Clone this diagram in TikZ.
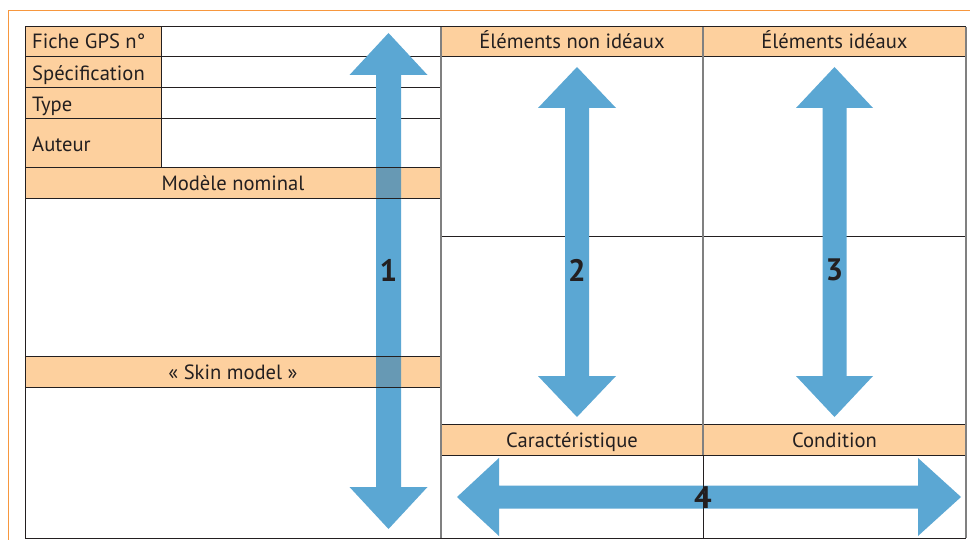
\documentclass[tikz,border=0pt]{standalone}
\usepackage{fontspec}
\setmainfont{PT Sans}
\definecolor{orfill}{RGB}{253,208,158}
\definecolor{orline}{RGB}{247,151,62}
\definecolor{arblue}{RGB}{91,167,211}
\definecolor{overlapc}{RGB}{103,153,180}
\definecolor{ink}{RGB}{35,31,32}
\definecolor{gridc}{RGB}{128,128,128}
\newcommand\myvarrow[7]{% cx, shaft half, head half, top tip, top base, bottom base, bottom tip
  \fill[arblue] ({#1},{#4}) -- ({#1+#3},{#5}) -- ({#1+#2},{#5}) -- ({#1+#2},{#6}) -- ({#1+#3},{#6})
    -- ({#1},{#7}) -- ({#1-#3},{#6}) -- ({#1-#2},{#6}) -- ({#1-#2},{#5}) -- ({#1-#3},{#5}) -- cycle;}
\begin{document}
\begin{tikzpicture}[x=1pt,y=-1pt,
  lbl/.style={font=\fontsize{20.6}{24}\selectfont, text=ink, inner sep=0pt, anchor=base west},
  hdr/.style={font=\fontsize{20.6}{24}\selectfont, text=ink, inner sep=0pt, anchor=base},
  num/.style={font=\bfseries\fontsize{31}{34}\selectfont, text=ink, inner sep=0pt},
  hl/.style={draw=ink, line width=1pt},
  vl/.style={draw=gridc, line width=1.2pt}]
\useasboundingbox (0,0) rectangle (970,540);
\fill[white] (0,0) rectangle (970,540);
% orange frame
\draw[orline, line width=1.2pt] (8.5,540) -- (8.5,10.5) -- (970,10.5);
% fills
\fill[orfill] (25,27) rectangle (161,168);
\fill[orfill] (25,168) rectangle (441,199);
\fill[orfill] (25,356) rectangle (441,387);
\fill[orfill] (441,27) rectangle (966,57);
\fill[orfill] (441,424) rectangle (966,455);
% horizontal lines
\foreach \yy in {27,57,88,119,168,199,356,387} \draw[hl] (25,\yy) -- (441,\yy);
\foreach \yy in {27,57,237,424,455} \draw[hl] (441,\yy) -- (966,\yy);
\draw[hl] (25,538) -- (966,538);
% vertical lines
\draw[hl] (25,27) -- (25,538);
\draw[hl] (161,27) -- (161,168);
\draw[vl] (441,27) -- (441,538);
\draw[vl] (703,27) -- (703,455);
\draw[vl] (966,27) -- (966,538);
% labels
\node[lbl] (fiche) at (32,49) {Fiche GPS n°};
\node[lbl] (spec) at (32,81) {Spécification};
\node[lbl] (type) at (32,112) {Type};
\node[lbl] (auteur) at (32,152) {Auteur};
\node[hdr] (nominal) at (233,191) {Modèle nominal};
\node[hdr] (skin) at (233,379) {« Skin model »};
\node[hdr] (nonideal) at (572,49) {Éléments non idéaux};
\node[hdr] (ideal) at (834.5,49) {Éléments idéaux};
\node[hdr] (carac) at (572,447) {Caractéristique};
\node[hdr] (cond) at (834.5,447) {Condition};
% arrows
\myvarrow{388.5}{12.5}{39}{33}{75}{487}{529}
\myvarrow{577}{12}{39}{67}{108}{376}{417}
\myvarrow{834.5}{12}{38.5}{67}{108}{376}{417}
\fill[arblue] (457,497) -- (499,458) -- (499,485.5) -- (918,485.5) -- (918,458) -- (961,497)
  -- (918,536) -- (918,508.5) -- (499,508.5) -- (499,536) -- cycle;
% overlap of arrow 1 with orange rows
\fill[overlapc] (376,168) rectangle (401,199);
\fill[overlapc] (376,356) rectangle (401,387);
\foreach \yy in {168,199,356,387} \draw[hl] (376,\yy) -- (401,\yy);
\draw[hl] (703,455) -- (703,538);
% numbers
\node[num] (n1) at (388.5,270) {1};
\node[num] (n2) at (577,270) {2};
\node[num] (n3) at (834.5,270) {3};
\node[num] (n4) at (703,498) {4};
\end{tikzpicture}
\end{document}
